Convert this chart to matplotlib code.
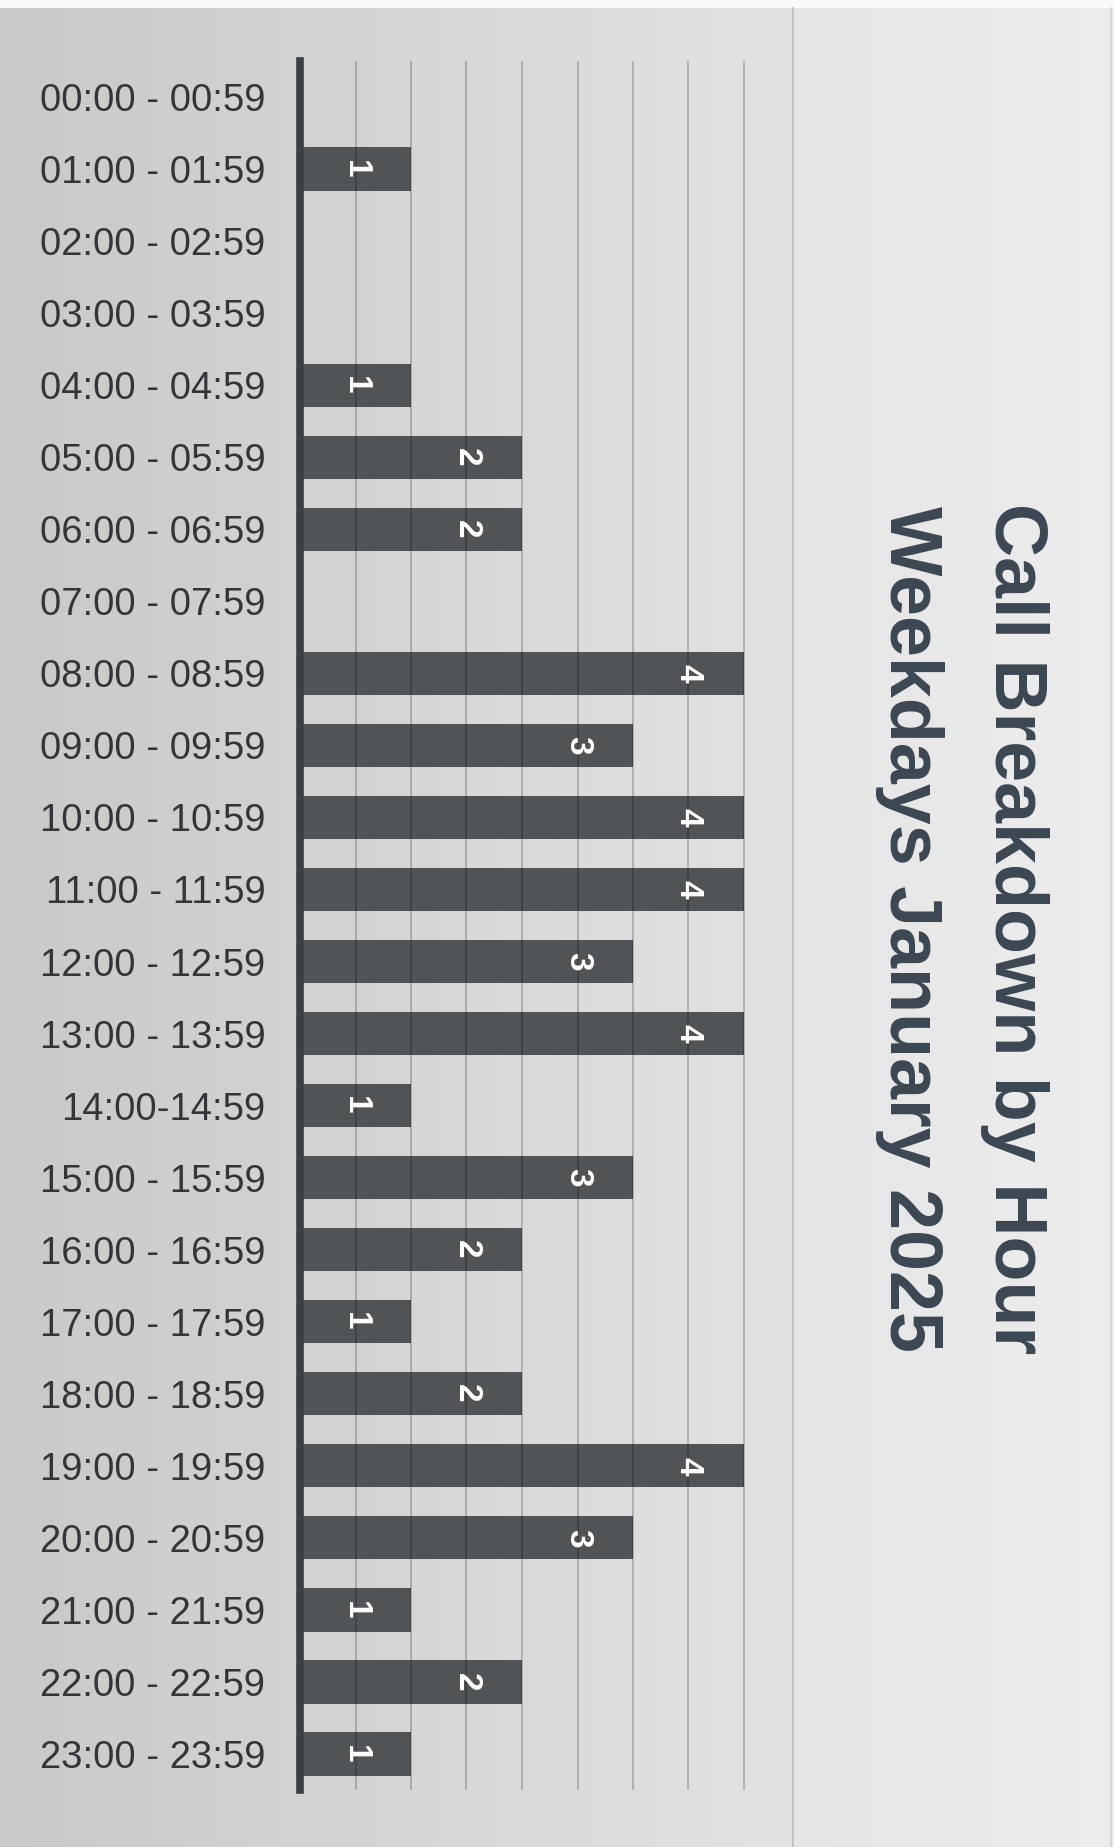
import matplotlib
matplotlib.use("Agg")
import matplotlib.pyplot as plt
import numpy as np

plt.rcParams['font.family'] = ['Liberation Sans', 'DejaVu Sans']

# calls per hour slot, weekdays in January 2025
hours = ["00:00 - 00:59", "01:00 - 01:59", "02:00 - 02:59", "03:00 - 03:59",
         "04:00 - 04:59", "05:00 - 05:59", "06:00 - 06:59", "07:00 - 07:59",
         "08:00 - 08:59", "09:00 - 09:59", "10:00 - 10:59", "11:00 - 11:59",
         "12:00 - 12:59", "13:00 - 13:59", "14:00-14:59", "15:00 - 15:59",
         "16:00 - 16:59", "17:00 - 17:59", "18:00 - 18:59", "19:00 - 19:59",
         "20:00 - 20:59", "21:00 - 21:59", "22:00 - 22:59", "23:00 - 23:59"]
calls = [0, 1, 0, 0, 1, 2, 2, 0, 4, 3, 4, 4, 3, 4, 1, 3, 2, 1, 2, 4, 3, 1, 2, 1]
grid_ticks = [0.5, 1.0, 1.5, 2.0, 2.5, 3.0, 3.5, 4.0]
title_lines = ["Call Breakdown by Hour", "Weekdays January 2025"]

W, H = 1114, 1847
fig = plt.figure(figsize=(W / 100, H / 100), dpi=100)

# paper background: greyish on the left, lighter sheet on the right
bg = fig.add_axes([0, 0, 1, 1], zorder=0)
xs = np.arange(W)
shade = np.where(xs < 793,
                 0.785 + 0.10 * xs / 793,
                 0.895 + 0.03 * (xs - 793) / (W - 793))
img = np.tile(shade, (H, 1))
img[:8, :] = 0.98
bg.imshow(img, extent=(0, W, H, 0), aspect='auto', cmap='gray', vmin=0, vmax=1)
bg.plot([793, 793], [8, H], color='#b9bbbd', lw=1.2)
bg.plot([1111, 1111], [8, H], color='#d2d3d5', lw=1.2)
bg.set_xlim(0, W)
bg.set_ylim(H, 0)
bg.axis('off')

# bar chart
ax = fig.add_axes([300 / W, 57 / H, 4.05 * 111 / W, 1729 / H], zorder=1)
ax.patch.set_alpha(0)
y = np.arange(len(hours))
ax.barh(y, calls, height=0.6, color='#515457', zorder=2)
for yi, v in zip(y, calls):
    if v > 0:
        ax.text(v - 0.5, yi, str(v), rotation=-90, ha='center', va='center',
                color='white', fontsize=24, fontweight='bold', zorder=4)

for gx in grid_ticks:
    ax.axvline(gx, color='black', alpha=0.26, lw=1.1, zorder=3)

ax.set_xlim(0, 4.05)
ax.set_ylim(len(hours) - 0.5, -0.5)
ax.set_yticks(y)
ax.set_yticklabels(hours, fontsize=27.5, color='#333538')
ax.tick_params(axis='y', length=0, pad=25)
ax.set_xticks([])
for s in ['top', 'right', 'bottom']:
    ax.spines[s].set_visible(False)
ax.spines['left'].set_linewidth(5.5)
ax.spines['left'].set_color('#3a3f44')

# rotated two-line title on the right
fig.text(1014 / W, 0.497, title_lines[0], rotation=-90, ha='center', va='center',
         fontsize=53, fontweight='bold', color='#3b4752')
fig.text(909 / W, 0.497, title_lines[1], rotation=-90, ha='center', va='center',
         fontsize=53, fontweight='bold', color='#3b4752')

fig.savefig("out.png", dpi=100)
